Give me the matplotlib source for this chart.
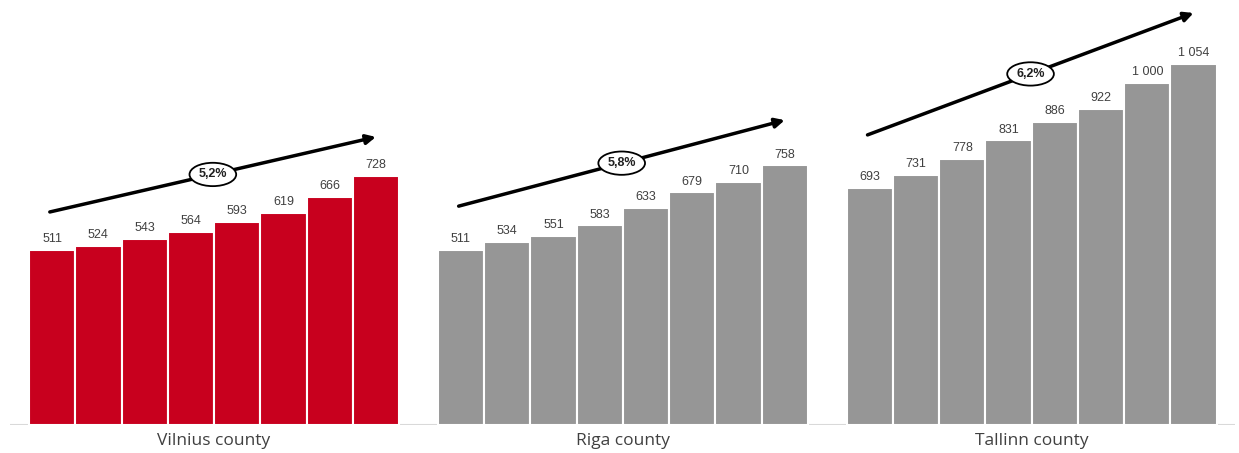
import matplotlib.pyplot as plt
import numpy as np

plt.rcParams["font.family"] = ["Liberation Sans", "DejaVu Sans"]

# yearly values per county (8 years each)
counties = ["Vilnius county", "Riga county", "Tallinn county"]
vilnius = [511, 524, 543, 564, 593, 619, 666, 728]
riga = [511, 534, 551, 583, 633, 679, 710, 758]
tallinn = [693, 731, 778, 831, 886, 922, 1000, 1054]
growth = ["5,2%", "5,8%", "6,2%"]

# trend arrow start / end heights (value units) for each county
arrow_start = [622, 639, 847]
arrow_end = [841, 890, 1203]

colours = ["#C8001E", "#969696", "#969696"]
label_col = "#404040"

fig = plt.figure(figsize=(12.39, 4.53), dpi=100)
ax = fig.add_axes([10 / 1239, 28 / 453, 1225 / 1239, 425 / 453])

group_step = 8.84
px = 46.25  # one bar width in pixels
x_left = -0.5 - 19 / px
x_right = x_left + 1225 / px
ax.set_xlim(x_left, x_right)
ax.set_ylim(0, 425 / 0.3425)

for g, (name, vals) in enumerate(zip(counties, [vilnius, riga, tallinn])):
    x = g * group_step + np.arange(len(vals))
    ax.bar(x, vals, width=1.0, color=colours[g], edgecolor="white",
           linewidth=1.5, zorder=2)
    for xi, v in zip(x, vals):
        txt = f"{v:,}".replace(",", " ")
        ax.text(xi, v + 14, txt, ha="center", va="bottom", fontsize=9,
                color=label_col)
    ax.text(x.mean(), -22, name, ha="center", va="top", fontsize=12.5,
            color=label_col, family=["Open Sans", "DejaVu Sans"])

    # trend arrow with growth rate in an ellipse
    x0, x1 = x[0] - 0.05, x[-1] + 0.0
    y0, y1 = arrow_start[g], arrow_end[g]
    ax.annotate("", xy=(x1, y1), xytext=(x0, y0),
                arrowprops=dict(arrowstyle="-|>", color="black", lw=2.5,
                                mutation_scale=14, shrinkA=0, shrinkB=0),
                zorder=4)
    ax.text((x0 + x1) / 2, (y0 + y1) / 2, growth[g], ha="center",
            va="center", fontsize=9, fontweight="bold", color="#202020",
            zorder=5,
            bbox=dict(boxstyle="ellipse,pad=0.18", fc="white", ec="black",
                      lw=1.3))

ax.axhline(0, color="#d9d9d9", lw=1.5, zorder=1)
for s in ax.spines.values():
    s.set_visible(False)
ax.set_xticks([])
ax.set_yticks([])

fig.savefig("out.png", dpi=100)
